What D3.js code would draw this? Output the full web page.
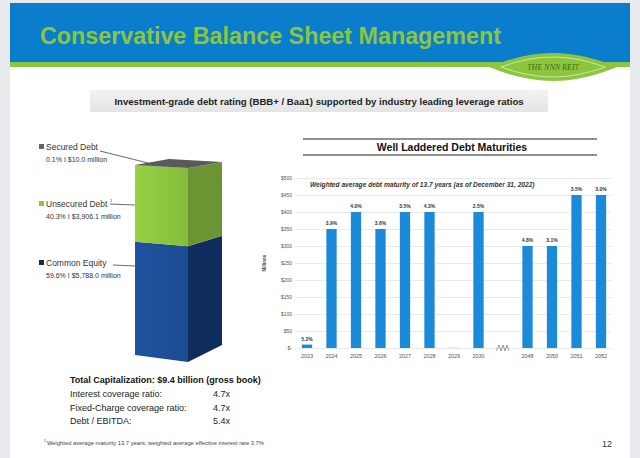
<!DOCTYPE html>
<html>
<head>
<meta charset="utf-8">
<script src="https://cdn.jsdelivr.net/npm/d3@7"></script>
<style>
  body { margin: 0; background: #e9eaee; }
  svg { display: block; font-family: "Liberation Sans", Arial, sans-serif; }
</style>
</head>
<body>
<svg id="chart" width="640" height="458"></svg>
<script>
// capital structure (stacked 3d bar)
var capNames = ["Common Equity", "Unsecured Debt", "Secured Debt"];
var capPct = [59.6, 40.3, 0.1];
var capAmt = [5788.0, 3906.1, 10.0];
var capLabels = ["59.6% I $5,788.0 million", "40.3% I $3,906.1 million", "0.1% I $10.0 million"];

// debt maturities
var years = ["2023", "2024", "2025", "2026", "2027", "2028", "2029", "2030", "break", "2048", "2050", "2051", "2052"];
var maturities = [10, 350, 400, 350, 400, 400, 1, 400, null, 300, 300, 450, 450];
var rates = ["5.2%", "3.9%", "4.0%", "3.6%", "3.5%", "4.3%", "", "2.5%", "", "4.8%", "3.1%", "3.5%", "3.0%"];
var yTicks = [0, 50, 100, 150, 200, 250, 300, 350, 400, 450, 500];

// ratios
var ratioNames = ["Interest coverage ratio:", "Fixed-Charge coverage ratio:", "Debt / EBITDA:"];
var ratioVals = ["4.7x", "4.7x", "5.4x"];

var svg = d3.select("#chart");
var defs = svg.append("defs");

// ---- slide frame ----
svg.append("rect").attr("x", 10).attr("y", 3).attr("width", 620).attr("height", 455).attr("fill", "#fff");
svg.append("rect").attr("x", 10).attr("y", 3).attr("width", 620).attr("height", 60).attr("fill", "#0a7dcd");
svg.append("rect").attr("x", 10).attr("y", 62).attr("width", 620).attr("height", 5).attr("fill", "#8cc63f");

svg.append("text")
  .attr("x", 40).attr("y", 44)
  .attr("font-size", 23.3).attr("font-weight", "bold")
  .attr("fill", "#8cc63f")
  .text("Conservative Balance Sheet Management");

// logo lens
var lg = svg.append("g").attr("transform", "translate(553,67)");
lg.append("path").attr("d", "M-64,0 Q-30,-14 0,-14 Q30,-14 64,0 Q30,14 0,14 Q-30,14 -64,0Z").attr("fill", "#8cc63f");
lg.append("path").attr("d", "M-52,0 Q-25,-10 0,-10 Q25,-10 52,0 Q25,10 0,10 Q-25,10 -52,0Z")
  .attr("fill", "none").attr("stroke", "#e6f3d2").attr("stroke-width", 0.7);
lg.append("text").attr("text-anchor", "middle").attr("y", 3)
  .attr("font-family", "Liberation Serif, serif").attr("font-size", 8).attr("font-style", "italic")
  .attr("fill", "#3f6e1c").text("THE NNN REIT");

// subtitle box
var sg = defs.append("linearGradient").attr("id", "subg").attr("x1", 0).attr("y1", 0).attr("x2", 0).attr("y2", 1);
sg.append("stop").attr("offset", "0%").attr("stop-color", "#f2f2f2");
sg.append("stop").attr("offset", "100%").attr("stop-color", "#e4e4e4");
svg.append("rect").attr("x", 90).attr("y", 90).attr("width", 458).attr("height", 22).attr("fill", "url(#subg)");
svg.append("text").attr("x", 319).attr("y", 105).attr("text-anchor", "middle")
  .attr("font-size", 9.6).attr("font-weight", "bold").attr("fill", "#222")
  .text("Investment-grade debt rating (BBB+ / Baa1) supported by industry leading leverage ratios");

// ---- 3d stacked bar ----
var total = d3.sum(capAmt);
var xL = 135, xR = 188, xB = 222;
var yL = d3.scaleLinear().domain([0, total]).range([355, 165]);
var yR = d3.scaleLinear().domain([0, total]).range([362, 168]);
var yB = d3.scaleLinear().domain([0, total]).range([345, 162]);

var frontCol = ["#1d4f98", "#8dc63f", "#5d5d5d"];
var sideCol = ["#0f2d5c", "#6a9532", "#444"];
var legendCol = ["#0d2a5c", "#8dc63f", "#666"];

var cum = 0;
var segs = capAmt.map(function(v, i) {
  var s = { i: i, y0: cum, y1: cum + v };
  cum += v;
  return s;
});

var bar = svg.append("g");
segs.forEach(function(s) {
  var fg = defs.append("linearGradient").attr("id", "fg" + s.i);
  fg.append("stop").attr("offset", "0%").attr("stop-color", d3.color(frontCol[s.i]).brighter(0.15));
  fg.append("stop").attr("offset", "100%").attr("stop-color", d3.color(frontCol[s.i]).darker(0.15));
  bar.append("polygon")
    .attr("points", [[xL, yL(s.y0)], [xR, yR(s.y0)], [xR, yR(s.y1)], [xL, yL(s.y1)]].join(" "))
    .attr("fill", "url(#fg" + s.i + ")");
  bar.append("polygon")
    .attr("points", [[xR, yR(s.y0)], [xB, yB(s.y0)], [xB, yB(s.y1)], [xR, yR(s.y1)]].join(" "))
    .attr("fill", sideCol[s.i]);
});
// top face
var dxBack = xB - xR, dyBack = yR(total) - yB(total);
bar.append("polygon")
  .attr("points", [[xL, yL(total)], [xR, yR(total)], [xB, yB(total)], [xL + dxBack, yL(total) - dyBack]].join(" "))
  .attr("fill", "#5a5a5a");

// labels for capital structure
var labY = [266, 207, 150];
var lineTo = [[135, 266], [135, 205], [148, 163]];
var lineFrom = [[113, 265], [110, 204], [100, 151]];
var labs = svg.append("g");
capNames.forEach(function(n, i) {
  labs.append("rect").attr("x", 39).attr("y", labY[i] - 6).attr("width", 5).attr("height", 5).attr("fill", legendCol[i]);
  labs.append("text").attr("x", 46).attr("y", labY[i]).attr("font-size", 8.5).attr("fill", "#333").text(n);
  labs.append("text").attr("x", 46).attr("y", labY[i] + 12).attr("font-size", 7).attr("fill", "#333").text(capLabels[i]);
  labs.append("line")
    .attr("x1", lineFrom[i][0]).attr("y1", lineFrom[i][1])
    .attr("x2", lineTo[i][0]).attr("y2", lineTo[i][1])
    .attr("stroke", "#444").attr("stroke-width", 0.8);
});
labs.append("text").attr("x", 110).attr("y", 202).attr("font-size", 4).attr("fill", "#333").text("1");

// ---- maturities chart ----
var mg = svg.append("g");
mg.append("line").attr("x1", 303).attr("x2", 597).attr("y1", 139).attr("y2", 139).attr("stroke", "#222").attr("stroke-width", 1.2);
mg.append("line").attr("x1", 303).attr("x2", 597).attr("y1", 155).attr("y2", 155).attr("stroke", "#222").attr("stroke-width", 1.2);
mg.append("text").attr("x", 452).attr("y", 151).attr("text-anchor", "middle")
  .attr("font-size", 10.5).attr("font-weight", "bold").attr("fill", "#111")
  .text("Well Laddered Debt Maturities");

var x = d3.scaleBand().domain(years).range([294.75, 613.25]).paddingInner(0.58).paddingOuter(0.29);
var y = d3.scaleLinear().domain([0, 500]).range([348, 178]);

// gridlines + y labels
var yAxis = d3.axisLeft(y).tickValues(yTicks).tickSize(-(612 - 295))
  .tickFormat(function(d) { return d === 0 ? "$-" : "$" + d; });
var ya = mg.append("g").attr("transform", "translate(295,0)").call(yAxis);
ya.select(".domain").remove();
ya.selectAll(".tick line").attr("stroke", "#dcdcdc").attr("stroke-width", 0.6);
ya.selectAll(".tick text").attr("x", -3).attr("font-size", 5).attr("fill", "#555")
  .attr("font-family", "Liberation Sans, Arial, sans-serif");

mg.append("text").attr("transform", "translate(266,263) rotate(-90)")
  .attr("text-anchor", "middle").attr("font-size", 4.5).attr("font-weight", "bold").attr("fill", "#555")
  .text("Millions");

var bd = years.map(function(yr, i) { return { yr: yr, v: maturities[i], r: rates[i] }; })
  .filter(function(d) { return d.v !== null; });

mg.selectAll("rect.bar").data(bd).enter().append("rect")
  .attr("class", "bar")
  .attr("x", function(d) { return x(d.yr); })
  .attr("width", x.bandwidth())
  .attr("y", function(d) { return y(d.v); })
  .attr("height", function(d) { return y(0) - y(d.v); })
  .attr("fill", function(d) { return d.v < 5 ? "#bbb" : "#1b8ad8"; });

mg.selectAll("text.rate").data(bd).enter().append("text")
  .attr("class", "rate")
  .attr("x", function(d) { return x(d.yr) + x.bandwidth() / 2; })
  .attr("y", function(d) { return y(d.v) - 4; })
  .attr("text-anchor", "middle").attr("font-size", 5).attr("font-weight", "bold").attr("fill", "#333")
  .text(function(d) { return d.r; });

// x labels
var xAxis = d3.axisBottom(x).tickSize(0).tickFormat(function(d) { return d === "break" ? "" : d; });
var xa = mg.append("g").attr("transform", "translate(0,351)").call(xAxis);
xa.select(".domain").remove();
xa.selectAll(".tick text").attr("font-size", 5.5).attr("fill", "#555")
  .attr("font-family", "Liberation Sans, Arial, sans-serif");

// axis break zigzag
var bx = x("break") + x.bandwidth() / 2;
mg.append("path")
  .attr("d", "M" + (bx - 7) + ",351 l3,-6 l2,6 l2,-6 l2,6 l2,-6 l2,6")
  .attr("fill", "none").attr("stroke", "#777").attr("stroke-width", 0.7);

mg.append("text").attr("x", 310).attr("y", 187)
  .attr("font-size", 6.6).attr("font-weight", "bold").attr("font-style", "italic").attr("fill", "#333")
  .text("Weighted average debt maturity of 13.7 years (as of December 31, 2022)");

// ---- totals / ratios ----
var bt = svg.append("g");
bt.append("text").attr("x", 70).attr("y", 383).attr("font-size", 9).attr("font-weight", "bold").attr("fill", "#111")
  .text("Total Capitalization: $9.4 billion (gross book)");
ratioNames.forEach(function(n, i) {
  bt.append("text").attr("x", 70).attr("y", 397 + i * 13.5).attr("font-size", 9).attr("fill", "#222").text(n);
  bt.append("text").attr("x", 213).attr("y", 397 + i * 13.5).attr("font-size", 9).attr("fill", "#222").text(ratioVals[i]);
});

svg.append("text").attr("x", 47).attr("y", 445).attr("font-size", 5.8).attr("fill", "#444")
  .text("Weighted average maturity 13.7 years; weighted average effective interest rate 3.7%");
svg.append("text").attr("x", 44).attr("y", 442).attr("font-size", 3.8).attr("fill", "#444").text("1");
svg.append("text").attr("x", 612).attr("y", 447).attr("text-anchor", "end").attr("font-size", 9).attr("fill", "#333").text("12");
</script>
</body>
</html>
